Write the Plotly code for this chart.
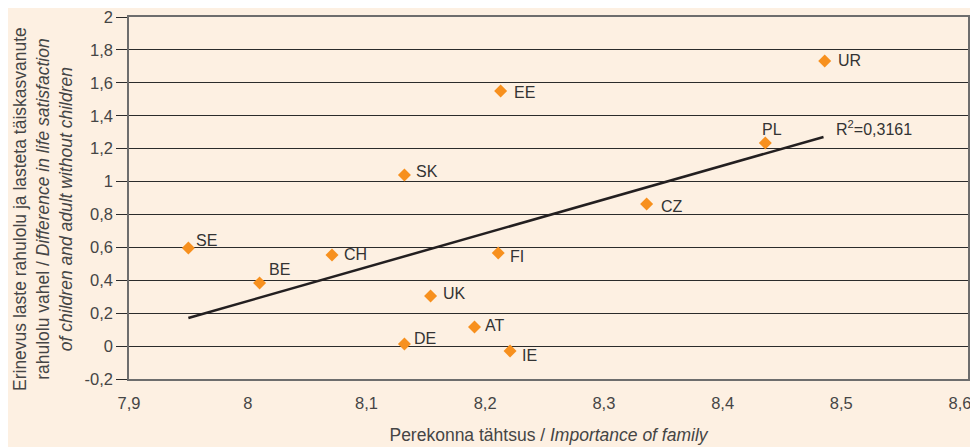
import plotly.graph_objects as go

countries = ["SE", "BE", "CH", "SK", "EE", "FI", "UK", "AT", "DE", "IE", "CZ", "PL", "UR"]
importance = [7.950, 8.010, 8.071, 8.132, 8.213, 8.211, 8.154, 8.191, 8.132, 8.221, 8.336, 8.436, 8.486]
difference = [0.596, 0.384, 0.554, 1.040, 1.551, 0.566, 0.305, 0.116, 0.013, -0.030, 0.864, 1.235, 1.733]

# label offsets in pixels (style only): (dx right, dy up)
label_offsets = [(6, 8), (7, 13), (10, 0), (10, 3), (11, -2), (10, -4),
                 (10, 2), (9, 2), (8, 5), (10, -4), (12, -3), (-5, 13), (11, 0)]

trend_x = [7.950, 8.485]
trend_y = [0.171, 1.271]
r2_text = "R<sup>2</sup>=0,3161"

y_ticks = [-0.2, 0, 0.2, 0.4, 0.6, 0.8, 1, 1.2, 1.4, 1.6, 1.8, 2]
x_ticks = [7.9, 8.0, 8.1, 8.2, 8.3, 8.4, 8.5, 8.6]

y_title = ("Erinevus laste rahulolu ja lasteta täiskasvanute<br>"
           "rahulolu vahel / <i>Difference in life satisfaction</i><br>"
           "<i>of children and adult without children</i>")
x_title = "Perekonna tähtsus / <i>Importance of family</i>"

txt_col = "#454545"
font_family = "Liberation Sans, Arial, sans-serif"

fig = go.Figure()
fig.add_trace(go.Scatter(
    x=trend_x, y=trend_y, mode="lines",
    line=dict(color="#231f20", width=2.5), hoverinfo="skip", showlegend=False))
fig.add_trace(go.Scatter(
    x=importance, y=difference, mode="markers",
    marker=dict(symbol="diamond", size=10, color="#f7901e"),
    text=countries, showlegend=False))

for c, xv, yv, (dx, dy) in zip(countries, importance, difference, label_offsets):
    fig.add_annotation(x=xv, y=yv, text=c, showarrow=False,
                       xanchor="left", yanchor="middle", xshift=dx, yshift=dy,
                       font=dict(size=16, color="#333333", family=font_family))

fig.add_annotation(x=trend_x[1], y=trend_y[1], text=r2_text, showarrow=False,
                   xanchor="left", yanchor="bottom", xshift=10, yshift=-3,
                   font=dict(size=16, color="#333333", family=font_family))

fig.add_annotation(xref="paper", yref="paper", x=0, y=0.5, xshift=-86, yshift=-11,
                   text=y_title, textangle=-90, showarrow=False,
                   xanchor="center", yanchor="middle",
                   font=dict(size=17.5, color=txt_col, family=font_family))

# page is rendered with an 8px body margin, so the figure is sized/offset accordingly
fig.update_layout(
    width=970, height=439,
    margin=dict(l=121, r=10, t=9, b=68, autoexpand=False),
    paper_bgcolor="#fdf0e2", plot_bgcolor="#fdf0e2",
    separators=",.",
    font=dict(family=font_family, color=txt_col, size=16),
    xaxis=dict(range=[7.9, 8.6067], tickvals=x_ticks,
               ticktext=[str(v).replace(".", ",") if v != 8.0 else "8" for v in x_ticks],
               showgrid=False, zeroline=False, showline=True, mirror=True,
               linecolor="#6d6d6d", linewidth=1.5, ticks="", automargin=False,
               ticklabeloverflow="allow", ticklabelstandoff=8,
               tickfont=dict(size=16.5, color=txt_col),
               title=dict(text=x_title, standoff=18, font=dict(size=17.5, color=txt_col))),
    yaxis=dict(range=[-0.2, 2], tickvals=y_ticks,
               ticktext=[str(v).replace(".", ",") for v in y_ticks],
               showgrid=True, gridcolor="#2b2b2b", gridwidth=1,
               zeroline=True, zerolinecolor="#2b2b2b", zerolinewidth=1,
               showline=True, mirror=True, linecolor="#6d6d6d", linewidth=1.5,
               ticks="outside", ticklen=11, tickcolor="#2b2b2b", automargin=False,
               ticklabeloverflow="allow",
               tickfont=dict(size=16.5, color=txt_col)),
)

fig.write_html("out.html")
